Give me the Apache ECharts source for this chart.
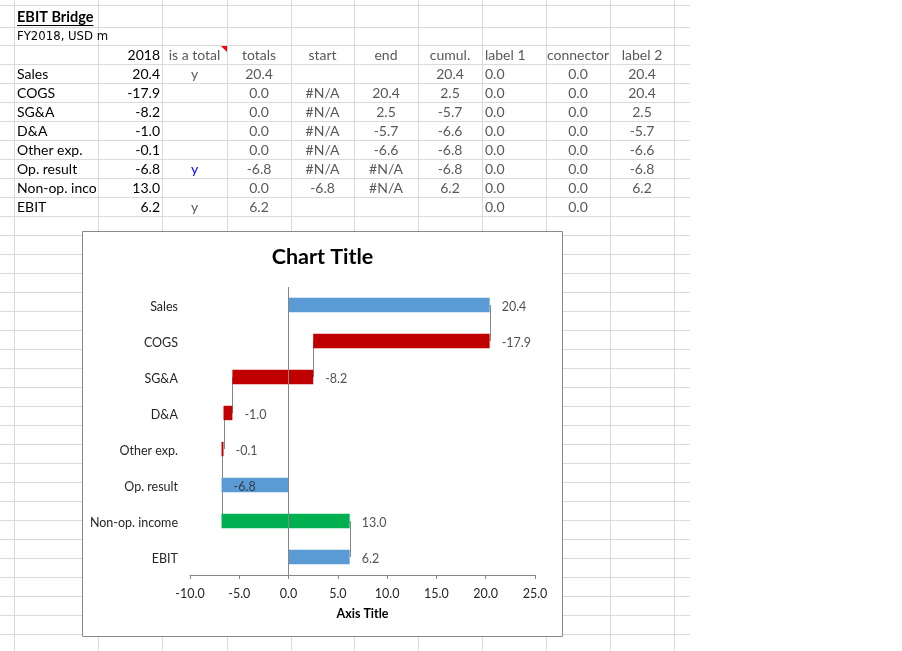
<!DOCTYPE html>
<html>
<head>
<meta charset="utf-8">
<script src="https://cdn.jsdelivr.net/npm/echarts@6/dist/echarts.min.js"></script>
<style>
html,body{margin:0;padding:0;background:#fff;}
#c{width:902px;height:651px;}
</style>
</head>
<body>
<div id="c"></div>
<script>
// ---------- data ----------
const categories = ['Sales','COGS','SG&A','D&A','Other exp.','Op. result','Non-op. income','EBIT'];
const values2018 = [20.4,-17.9,-8.2,-1.0,-0.1,-6.8,13.0,6.2];
const isTotal = ['y','','','','','y','','y'];
const colTotals = [20.4,0,0,0,0,-6.8,0,6.2];
const colStart = [null,'#N/A','#N/A','#N/A','#N/A','#N/A',-6.8,null];
const colEnd = [null,20.4,2.5,-5.7,-6.6,'#N/A','#N/A',null];
const colCumul = [20.4,2.5,-5.7,-6.6,-6.8,-6.8,6.2,null];
const colLabel1 = [0,0,0,0,0,0,0,0];
const colConnector = [0,0,0,0,0,0,0,0];
const colLabel2 = [20.4,20.4,2.5,-5.7,-6.6,-6.8,6.2,null];
const tableHeaders = ['2018','is a total','totals','start','end','cumul.','label 1','connector','label 2'];
const sheetTitle = 'EBIT Bridge';
const sheetSubtitle = 'FY2018, USD m';
const xTicks = {min:-10, max:25, interval:5};

// ---------- layout ----------
const colEdges = [14,98,162,227,291,354,418,482,546,610,674];
const gridRight = 690;
const rowEdges = [5,27,45];
for (let y = 64; y <= 651; y += 19) rowEdges.push(y);
const gridColor = '#dadada';
const FONT = 'Lato, "Noto Sans", sans-serif';

const fmt = v => v === null || v === undefined ? '' : (typeof v === 'number' ? v.toFixed(1) : v);
const measureCtx = document.createElement('canvas').getContext('2d');
function fitText(text, font, maxW) {
  measureCtx.font = font;
  let t = text;
  while (t.length > 0 && measureCtx.measureText(t).width > maxW) t = t.slice(0, -1);
  return t;
}

const graphics = [];
colEdges.forEach(x => graphics.push({type:'line', z:-20, silent:true,
  shape:{x1:x+0.5,y1:0,x2:x+0.5,y2:651}, style:{stroke:gridColor,lineWidth:1}}));
rowEdges.forEach(y => graphics.push({type:'line', z:-20, silent:true,
  shape:{x1:0,y1:y+0.5,x2:gridRight,y2:y+0.5}, style:{stroke:gridColor,lineWidth:1}}));

function cell(text, x, y, align, opts) {
  opts = opts || {};
  graphics.push({type:'text', z:-19, silent:true, x:x, y:y,
    style:{text:text, textAlign:align, textVerticalAlign:'middle',
      font:(opts.weight||'normal')+' '+(opts.size||14)+'px '+(opts.family||FONT),
      fill:opts.color||'#000'}});
}
// sheet title + subtitle
const titleFont = 'bold 14.5px ' + FONT;
cell(sheetTitle, 17, 17, 'left', {weight:'bold', size:14.5});
(function(){
  measureCtx.font = titleFont;
  const w = measureCtx.measureText(sheetTitle).width;
  graphics.push({type:'line', z:-19, silent:true, shape:{x1:17,y1:25.5,x2:17+w,y2:25.5}, style:{stroke:'#000',lineWidth:1}});
})();
cell(sheetSubtitle, 17, 37, 'left', {size:13, family:'"Liberation Sans Narrow","DejaVu Sans Condensed",sans-serif', color:'#000'});

const gray = '#595959';
// column positions: C right, D..H center, I left, J,K center
const colPos = [
  {x:160, a:'right', c:'#000'},
  {x:194.5, a:'center', c:gray},
  {x:259, a:'center', c:gray},
  {x:322.5, a:'center', c:gray},
  {x:386, a:'center', c:gray},
  {x:450, a:'center', c:gray},
  {x:485, a:'left', c:gray},
  {x:578, a:'center', c:gray},
  {x:642, a:'center', c:gray}
];
const headerY = 55.5;
tableHeaders.forEach((h,i) => cell(h, colPos[i].x, headerY, colPos[i].a, {color: i===0 ? '#000' : gray}));
// comment indicator
graphics.push({type:'polygon', z:-19, silent:true, shape:{points:[[221,46],[227,46],[227,52]]}, style:{fill:'#ff0000'}});

const columns = [values2018, isTotal, colTotals, colStart, colEnd, colCumul, colLabel1, colConnector, colLabel2];
categories.forEach((cat, r) => {
  const y = 74.5 + 19*r;
  cell(fitText(cat, 'normal 14px ' + FONT, 81), 17, y, 'left', {});
  columns.forEach((col, ci) => {
    let color = colPos[ci].c;
    if (ci === 1 && r === 5) color = '#0000ff';
    cell(fmt(col[r]), colPos[ci].x, y, colPos[ci].a, {color: color});
  });
});

// chart box
graphics.push({type:'rect', z:-10, silent:true, shape:{x:82.5,y:231.5,width:480,height:405},
  style:{fill:'#fff', stroke:'#898989', lineWidth:1}});

// ---------- chart data derived ----------
const BLUE = '#5b9bd5', RED = '#c00000', GREEN = '#00b050';
const barColors = [BLUE, RED, GREEN];
const barData = categories.map((c,i) => {
  const total = isTotal[i] === 'y';
  const s = total ? 0 : colCumul[i-1];
  const e = total ? values2018[i] : colCumul[i];
  const colorIdx = total ? 0 : (values2018[i] < 0 ? 1 : 2);
  return [s, e, i, colorIdx];
});
const connData = [];
for (let i = 0; i < categories.length - 1; i++) connData.push([colCumul[i], i, i+1]);
const labelData = categories.map((c,i) => [colLabel2[i] !== null ? colLabel2[i] : colTotals[i], i, values2018[i]]);

const textColor = '#262626';
const FS = 12.5;
const chart = echarts.init(document.getElementById('c'));
chart.setOption({
  animation:false,
  graphic: graphics,
  title:{text:'Chart Title', left:322.5, top:257.5, textAlign:'center', textVerticalAlign:'middle', padding:0,
    textStyle:{fontFamily:FONT, fontSize:21.5, fontWeight:'bold', color:'#000'}},
  grid:{left:190, top:287, width:345, height:288, containLabel:false},
  xAxis:{type:'value', min:xTicks.min, max:xTicks.max, interval:xTicks.interval,
    axisLine:{show:true, onZero:false, lineStyle:{color:'#868686'}},
    axisTick:{show:true, length:4, lineStyle:{color:'#868686'}},
    splitLine:{show:false},
    axisLabel:{margin:12, color:textColor, fontFamily:FONT, fontSize:FS, formatter:v => v.toFixed(1)},
    name:'Axis Title', nameLocation:'middle', nameGap:32,
    nameTextStyle:{fontFamily:FONT, fontSize:FS, fontWeight:'bold', color:'#000'}},
  yAxis:{type:'category', data:categories, inverse:true,
    axisLine:{show:false}, axisTick:{show:false}, splitLine:{show:false},
    axisLabel:{margin:12, color:textColor, fontFamily:FONT, fontSize:FS,
      formatter:v => '{a|' + v + '}',
      rich:{a:{color:textColor, fontFamily:FONT, fontSize:FS, padding:[3,0,0,0]}}}},
  series:[
    {type:'custom', z:1, data:connData, encode:{x:0, y:[1,2]},
      renderItem:(params, api) => {
        const p1 = api.coord([api.value(0), api.value(1)]);
        const p2 = api.coord([api.value(0), api.value(2)]);
        const x = Math.round(p1[0]) + 0.5;
        return {type:'line', shape:{x1:x, y1:p1[1], x2:x, y2:p2[1]}, style:{stroke:'#868686', lineWidth:1}};
      },
      markLine:{silent:true, symbol:['none','none'], label:{show:false},
        lineStyle:{color:'#868686', type:'solid', width:1}, data:[{xAxis:0}]}
    },
    {type:'custom', z:3, data:barData, encode:{x:[0,1], y:2},
      renderItem:(params, api) => {
        const p1 = api.coord([api.value(0), api.value(2)]);
        const p2 = api.coord([api.value(1), api.value(2)]);
        const h = api.size([0,1])[1] * 0.4;
        return {type:'rect', shape:{x:Math.min(p1[0],p2[0]), y:p1[1]-h/2, width:Math.max(Math.abs(p2[0]-p1[0]),1), height:h},
          style:{fill:barColors[api.value(3)]}};
      }
    },
    {type:'scatter', z:4, symbolSize:0, data:labelData, encode:{x:0, y:1},
      label:{show:true, position:'right', distance:12, offset:[0,1.5], color:textColor, fontFamily:FONT, fontSize:FS,
        formatter:p => p.data[2].toFixed(1)}
    }
  ]
});
</script>
</body>
</html>
